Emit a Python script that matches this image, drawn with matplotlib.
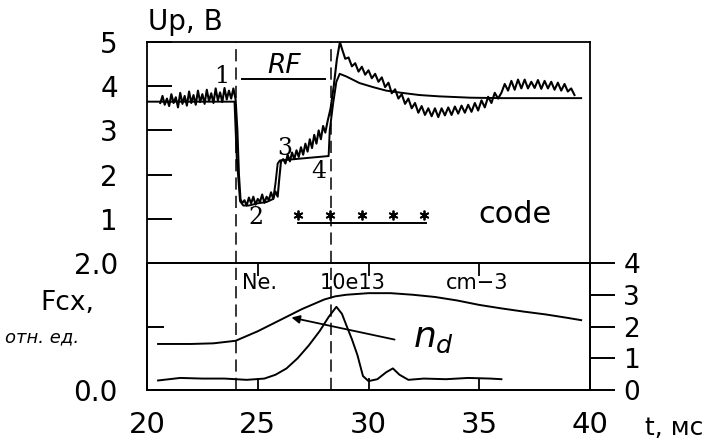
import numpy as np
import matplotlib
matplotlib.use("Agg")
import matplotlib.pyplot as plt

# --- данные ---

# Up, B : зашумлённая кривая (1, 3), куски: (t0, шаг, значения)
up_noisy_pieces = [
    (20.6, 0.1, [3.62, 3.78, 3.58, 3.72, 3.55, 3.82, 3.62, 3.75, 3.52, 3.85,
                 3.60, 3.78, 3.56, 3.88, 3.62, 3.80, 3.58, 3.90, 3.64, 3.82,
                 3.60, 3.92, 3.66, 3.84, 3.62, 3.95, 3.68, 3.86, 3.64, 3.96,
                 3.70, 3.90, 3.72, 3.95, 3.70]),
    (24.08, 0.07, [3.0, 2.0, 1.45, 1.35]),
    (24.4, 0.1, [1.42, 1.30, 1.48, 1.35, 1.50, 1.32, 1.45, 1.38, 1.55, 1.36,
                 1.50, 1.42, 1.60, 1.45, 1.62, 1.50]),
    (25.97, 0.08, [1.9, 2.3]),
    (26.15, 0.1, [2.35, 2.25, 2.45, 2.30, 2.50, 2.35, 2.55, 2.40, 2.62, 2.45,
                  2.70, 2.52, 2.80, 2.60, 2.90, 2.70, 3.00, 2.80, 3.10, 2.95]),
    (28.15, 0.14, [3.2, 3.5, 4.0, 4.6, 5.0]),
    (28.8, 0.15, [4.85, 4.62, 4.65, 4.45, 4.52, 4.33, 4.44, 4.26, 4.36, 4.18,
                  4.28, 4.10, 4.20, 3.98, 4.08, 3.84, 3.93, 3.72, 3.82, 3.60,
                  3.72, 3.50, 3.62, 3.40, 3.55, 3.35, 3.50, 3.32, 3.50, 3.30,
                  3.50, 3.34, 3.52, 3.35, 3.54, 3.38, 3.56, 3.40, 3.58, 3.42,
                  3.62, 3.45, 3.68, 3.52, 3.76, 3.62, 3.85, 3.72]),
    (36.0, 0.15, [3.85, 4.05, 3.90, 4.12, 3.92, 4.15, 3.95, 4.15, 3.95, 4.10,
                  3.96, 4.14, 3.94, 4.12, 3.95, 4.10, 3.92, 4.08, 3.90, 4.05,
                  3.88, 3.95, 3.80]),
]

# Up, B : гладкая кривая (2, 4)
up_smooth_t = [20.0, 23.95, 24.05, 24.2, 24.35, 24.6, 25.0, 25.4, 25.7, 25.8,
               25.9, 26.0, 28.2, 28.25, 28.4, 28.55, 28.7, 29.0, 29.6, 30.2,
               30.8, 31.5, 32.3, 33.2, 34.6, 36.0, 38.0, 39.6]
up_smooth_v = [3.65, 3.65, 2.4, 1.4, 1.3, 1.3, 1.35, 1.38, 1.45, 1.8,
               2.25, 2.32, 2.42, 3.0, 3.6, 4.1, 4.28, 4.22, 4.07, 3.98,
               3.9, 3.85, 3.8, 3.77, 3.74, 3.73, 3.73, 3.73]

# импульс RF и маркеры code
rf_t = [24.3, 28.05]
rf_level = 4.16
code_t = [26.8, 28.25, 29.7, 31.1, 32.5]
code_level = 1.09
code_line_t = [26.8, 32.6]
code_line_level = 0.9

# моменты включения/выключения
t_marks = [24.0, 28.3]

# Ne, 10e13 cm-3 (правая ось)
ne_t = [20.5, 22, 23, 24, 25, 26, 27, 28, 28.5, 29, 30, 31, 32, 33, 34, 35,
        36, 37, 38, 39, 39.6]
ne_v = [1.45, 1.45, 1.47, 1.55, 1.85, 2.2, 2.55, 2.85, 2.95, 3.0, 3.05, 3.05,
        3.0, 2.93, 2.82, 2.68, 2.57, 2.47, 2.38, 2.27, 2.2]

# Fcx, отн. ед. (левая ось)
fcx_t = [20.5, 21.5, 22.5, 23.5, 24.5, 25.3, 25.8, 26.3, 26.8, 27.3, 27.8,
         28.2, 28.55, 28.8, 29.0, 29.25, 29.5, 29.75, 30.0, 30.4, 30.8, 31.1,
         31.4, 31.8, 32.5, 33.5, 34.5, 35.5, 36.0]
fcx_v = [0.15, 0.19, 0.18, 0.18, 0.16, 0.18, 0.24, 0.34, 0.5, 0.7, 0.93,
         1.15, 1.31, 1.2, 1.02, 0.8, 0.55, 0.22, 0.14, 0.17, 0.28, 0.34,
         0.24, 0.16, 0.18, 0.17, 0.19, 0.18, 0.17]

x_ticks = [20, 25, 30, 35, 40]

W, H = 725, 444
LW = 1.4


def fx(x):
    return x / W


def fy(y):
    return 1 - y / H


fig = plt.figure(figsize=(W / 100, H / 100), dpi=100)
plt.rcParams['font.family'] = ['DejaVu Sans']

ax1 = fig.add_axes([fx(147), fy(263), (590 - 147) / W, (263 - 42) / H])
ax2 = fig.add_axes([fx(147), fy(390), (590 - 147) / W, (390 - 263) / H])
ax2r = ax2.twinx()

for ax in (ax1, ax2, ax2r):
    for s in ax.spines.values():
        s.set_linewidth(1.3)

# ---- верхняя панель ----
noisy_t = np.concatenate([t0 + step * np.arange(len(v)) for t0, step, v in up_noisy_pieces])
noisy_v = np.concatenate([v for _, _, v in up_noisy_pieces])
ax1.plot(noisy_t, noisy_v, color='k', lw=1.5)
ax1.plot(up_smooth_t, up_smooth_v, color='k', lw=LW)

ax1.plot(rf_t, [rf_level] * 2, color='k', lw=LW)
ax1.text(26.2, 4.46, 'RF', fontsize=19, style='italic', ha='center', va='center')

ax1.plot(code_t, [code_level] * len(code_t), ls='none', marker=(6, 2, 0),
         ms=7, mec='k', mew=1.3)
ax1.plot(code_line_t, [code_line_level] * 2, color='k', lw=LW)
ax1.text(36.6, code_level, 'code', fontsize=22, ha='center', va='center')

for lab, tx, vy in [('1', 23.39, 4.21), ('2', 24.93, 1.02),
                    ('3', 26.2, 2.6), ('4', 27.74, 2.06)]:
    ax1.text(tx, vy, lab, fontsize=17, family='DejaVu Serif',
             ha='center', va='center')

for tm in t_marks:
    ax1.axvline(tm, color='k', lw=1.1, ls=(0, (8, 4)))

ax1.set_xlim(20, 40)
ax1.set_ylim(0, 5)
ax1.set_yticks([1, 2, 3, 4, 5])
ax1.tick_params(axis='y', direction='in', length=18, width=1.4, pad=21,
                labelsize=20)
ax1.tick_params(axis='x', bottom=False, labelbottom=False)

# ---- нижняя панель ----
ax2.plot(fcx_t, fcx_v, color='k', lw=LW)
ax2r.plot(ne_t, ne_v, color='k', lw=LW)

for tm in t_marks:
    ax2.axvline(tm, color='k', lw=1.1, ls=(0, (8, 4)))

ax2.set_xlim(20, 40)
ax2.set_ylim(0, 2)
ax2.set_yticks([0, 1, 2])
ax2.set_yticklabels(['0.0', '', '2.0'])
ax2.tick_params(axis='y', direction='in', length=12, width=1.4, pad=21,
                labelsize=20)
ax2.set_xticks(x_ticks)
ax2.tick_params(axis='x', direction='in', length=9, width=1.3, top=True,
                pad=15, labelsize=21)

ax2r.set_ylim(0, 4)
ax2r.set_yticks([0, 1, 2, 3, 4])
ax2r.tick_params(axis='y', direction='out', length=18, width=1.4, pad=6,
                 labelsize=19)

ax2r.annotate('', xy=(26.4, 2.3), xytext=(31.3, 1.57),
              arrowprops=dict(arrowstyle='-|>', lw=1.3, color='k',
                              mutation_scale=12))
ax2r.text(32.0, 1.35, r'$n_d$', fontsize=26, ha='left', va='baseline')

ax2r.text(24.3, 3.37, 'Ne.', fontsize=15, ha='left', va='center')
ax2r.text(27.8, 3.37, '10e13', fontsize=15, ha='left', va='center')
ax2r.text(33.5, 3.37, 'cm\u22123', fontsize=15, ha='left', va='center')

# ---- подписи осей ----
fig.text(fx(148), fy(22), 'Up, В', fontsize=20, ha='left', va='center')
fig.text(fx(40), fy(303), 'Fcx,', fontsize=19, ha='left', va='center')
fig.text(fx(5), fy(337), 'отн. ед.', fontsize=13, style='italic',
         ha='left', va='center')
fig.text(fx(645), fy(428), 't, мс', fontsize=18, ha='left', va='center')

fig.savefig('out.png', dpi=100)
